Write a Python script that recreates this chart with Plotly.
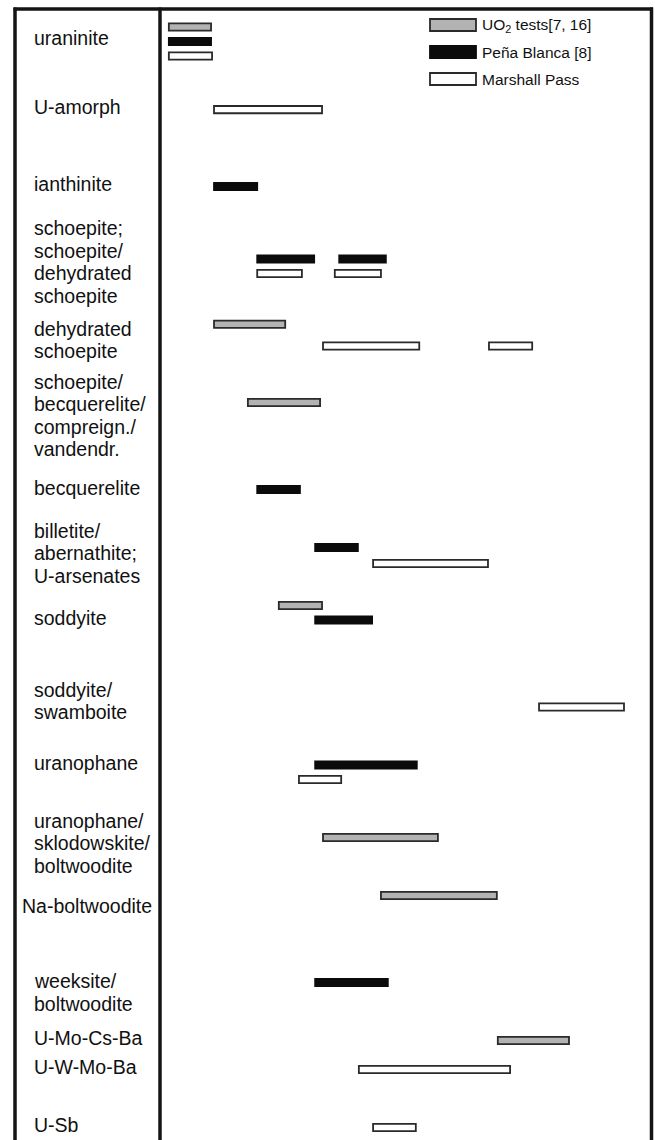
import plotly.graph_objects as go

# ---------------- data ----------------
# Mineral labels (left panel) and the row (track) where each label is centred
labels = [
    "uraninite", "U-amorph", "ianthinite",
    "schoepite;<br>schoepite/<br>dehydrated<br>schoepite",
    "dehydrated<br>schoepite",
    "schoepite/<br>becquerelite/<br>compreign./<br>vandendr.",
    "becquerelite",
    "billetite/<br>abernathite;<br>U-arsenates",
    "soddyite",
    "soddyite/<br>swamboite",
    "uranophane",
    "uranophane/<br>sklodowskite/<br>boltwoodite",
    "Na-boltwoodite",
    "weeksite/<br>boltwoodite",
    "U-Mo-Cs-Ba", "U-W-Mo-Ba", "U-Sb",
]
label_rows = [1.75, 6.5, 11.8, 17.2, 22.6, 27.8, 32.8, 37.3, 41.75,
              47.5, 51.75, 57.3, 61.6, 67.6, 70.7, 72.7, 76.7]

# UO2 tests [7, 16]
uo2_row   = [1.0, 21.5, 26.9, 40.9, 56.9, 60.9, 70.9]
uo2_start = [1.8, 11.0, 17.9, 24.2, 33.2, 45.0, 68.8]
uo2_end   = [10.4, 25.5, 32.6, 33.0, 56.6, 68.6, 83.3]

# Peña Blanca [8]
pb_row   = [2.0, 12.0, 17.0, 17.0, 32.9, 36.9, 41.9, 51.9, 66.9]
pb_start = [1.8, 11.0, 19.8, 36.5, 19.8, 31.6, 31.6, 31.6, 31.6]
pb_end   = [10.4, 19.8, 31.4, 46.0, 28.5, 40.3, 43.2, 52.3, 46.4]

# Marshall Pass
mp_row   = [3.0, 6.7, 18.0, 18.0, 23.0, 23.0, 38.0, 47.9, 52.9, 72.9, 76.9]
mp_start = [1.8, 11.0, 19.8, 35.6, 33.2, 67.0, 43.4, 77.2, 28.3, 40.5, 43.4]
mp_end   = [10.6, 33.0, 28.9, 45.0, 52.8, 75.8, 66.8, 94.5, 36.9, 71.3, 52.1]

series = [
    ("UO<sub>2</sub> tests[7, 16]", uo2_row, uo2_start, uo2_end, "#b3b3b3", "#2a2a2a"),
    ("Peña Blanca [8]", pb_row, pb_start, pb_end, "#0b0b0b", "#0b0b0b"),
    ("Marshall Pass", mp_row, mp_start, mp_end, "#ffffff", "#2a2a2a"),
]

FONT = "Liberation Sans, Arial, Helvetica, sans-serif"

fig = go.Figure()
for name, rows, starts, ends, fill, edge in series:
    fig.add_trace(go.Bar(
        name=name, orientation="h",
        y=rows, base=starts, x=[e - s for s, e in zip(starts, ends)],
        width=0.5,
        marker=dict(color=fill, line=dict(color=edge, width=1.8)),
        showlegend=False, hoverinfo="skip",
    ))

# ---------------- layout geometry ----------------
W, H = 655, 1140
L, R, T, B = 160, 4, 9, 0
pw, ph = W - L - R, H - T - B
TRACK_PX = ph / (77.76 + 0.24)

def px_x(px):  # window pixel -> paper x
    return (px - L) / pw

def px_y(py):  # window pixel -> paper y
    return 1 - (py - T) / ph

shapes = []
line_col = "#141414"
# outer frame (top, left, right) and divider
shapes.append(dict(type="line", xref="paper", yref="paper", x0=px_x(13.5), x1=px_x(653),
                   y0=px_y(9), y1=px_y(9), line=dict(color=line_col, width=3.5)))
for xv in (15, 160, 651.5):
    shapes.append(dict(type="line", xref="paper", yref="paper", x0=px_x(xv), x1=px_x(xv),
                       y0=px_y(7.5), y1=px_y(1150), line=dict(color=line_col, width=3.5)))

annotations = []
pitch = 22.5 / TRACK_PX
for lab, r in zip(labels, label_rows):
    xstart = 20 if lab == "Na-boltwoodite" else 32
    lines = lab.split("<br>")
    n = len(lines)
    for i, ln in enumerate(lines):
        annotations.append(dict(
            text=ln, xref="paper", yref="y", x=px_x(xstart),
            y=r + (i - (n - 1) / 2) * pitch,
            xanchor="left", yanchor="middle", align="left", showarrow=False,
            font=dict(family=FONT, size=19.5, color="#111111"),
        ))

# legend (wide swatches drawn as shapes)
leg_y = [25, 52, 79]
for (name, _, _, _, fill, edge), cy in zip(series, leg_y):
    shapes.append(dict(type="rect", xref="paper", yref="paper",
                       x0=px_x(430), x1=px_x(476), y0=px_y(cy - 6), y1=px_y(cy + 6),
                       fillcolor=fill, line=dict(color=edge, width=1.8)))
    annotations.append(dict(
        text=name, xref="paper", yref="paper", x=px_x(480), y=px_y(cy),
        xanchor="left", yanchor="middle", showarrow=False,
        font=dict(family=FONT, size=15.5, color="#111111"),
    ))

fig.update_layout(
    width=W, height=H,
    margin=dict(l=L, r=R, t=T, b=B, pad=0),
    paper_bgcolor="white", plot_bgcolor="white",
    barmode="overlay",
    xaxis=dict(range=[0, 100], visible=False, fixedrange=True),
    yaxis=dict(range=[77.76, -0.24], visible=False, fixedrange=True),
    shapes=shapes, annotations=annotations,
    showlegend=False,
)

fig.write_html(
    "out.html",
    config={"displayModeBar": False, "staticPlot": True},
    post_script="document.body.style.margin='0';document.body.style.overflow='hidden';",
)
